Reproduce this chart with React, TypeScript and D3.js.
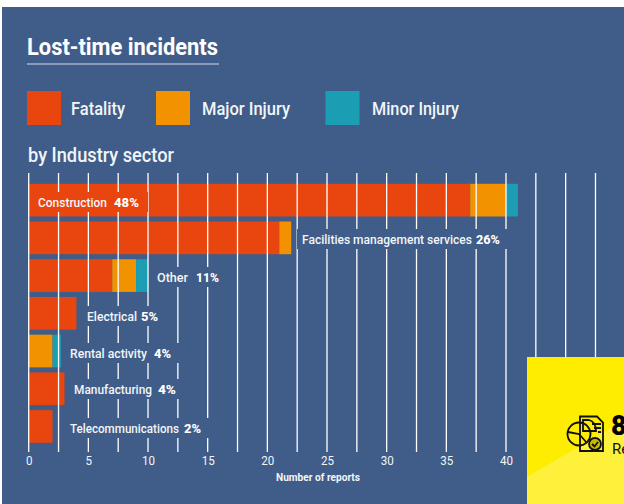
import React, { useEffect, useRef } from "react";
import * as d3 from "d3";

const sectors = [
  "Construction",
  "Facilities management services",
  "Other",
  "Electrical",
  "Rental activity",
  "Manufacturing",
  "Telecommunications",
];
const shares = ["48%", "26%", "11%", "5%", "4%", "4%", "2%"];
const fatality = [37, 21, 7, 4, 0, 3, 2];
const majorInjury = [3, 1, 2, 0, 2, 0, 0];
const minorInjury = [1, 0, 1, 0, 0.7, 0, 0];
const seriesNames = ["Fatality", "Major Injury", "Minor Injury"];
const axisTicks = [0, 5, 10, 15, 20, 25, 30, 35, 40];
const gridValues = d3.range(0, 48, 2.5);

const BG = "#3f5d88";
const INK = "#f2f5f8";
const colors = ["#e8450f", "#f39200", "#1b9db4"];

// hand placed, [name x, name width, share x, share width]
const labelPlacement = [
  [38, 69, 114, 25],
  [302, 170, 476, 24],
  [157, 31, 196, 23],
  [87, 50, 141, 17],
  [70, 77, 154, 17],
  [74, 78, 158, 18],
  [70, 109, 184, 17],
];
const labelCenters = [202, 239, 277, 316, 353, 389, 428];
const legendPlacement = [
  [27, 71, 54],
  [156, 202, 88],
  [325.5, 372, 87],
];

const App = () => {
  const svgRef = useRef<SVGSVGElement>(null);

  useEffect(() => {
    const svg = d3.select(svgRef.current);
    svg.selectAll("*").remove();

    const font = "Roboto, sans-serif";
    const addText = (
      x: number,
      y: number,
      str: string,
      size: number,
      width: number,
      weight = 500,
      fill = INK
    ) =>
      svg
        .append("text")
        .attr("x", x)
        .attr("y", y)
        .attr("font-family", font)
        .attr("font-size", size)
        .attr("font-weight", weight)
        .attr("fill", fill)
        .attr("textLength", width)
        .attr("lengthAdjust", "spacingAndGlyphs")
        .text(str);

    svg.append("rect").attr("x", 2).attr("y", 7).attr("width", 622).attr("height", 497).attr("fill", BG);

    // Heading
    addText(27, 54.5, "Lost-time incidents", 24, 191, 700, "#ffffff");
    svg.append("line").attr("x1", 27).attr("x2", 219).attr("y1", 64).attr("y2", 64)
      .attr("stroke", "#d5dce6").attr("stroke-width", 1.2);

    // Legend
    seriesNames.forEach((name, i) => {
      const [sx, tx, tw] = legendPlacement[i];
      svg.append("rect").attr("x", sx).attr("y", 91).attr("width", 34).attr("height", 34).attr("fill", colors[i]);
      addText(tx, 115, name, 18.5, tw);
    });

    addText(28, 162, "by Industry sector", 19.5, 146);

    // Scales
    const xScale = d3.scaleLinear().domain([0, 40]).range([28.7, 506]);
    const yScale = d3
      .scaleBand()
      .domain(sectors)
      .range([181.3, 445.3])
      .paddingInner(0.133)
      .paddingOuter(0.066);

    // Stacked bars
    const rows = sectors.map((s, i) => ({
      sector: s,
      Fatality: fatality[i],
      "Major Injury": majorInjury[i],
      "Minor Injury": minorInjury[i],
    }));
    const stacked = d3.stack().keys(seriesNames)(rows as any);
    stacked.forEach((layer, k) => {
      svg
        .append("g")
        .selectAll("rect")
        .data(layer)
        .enter()
        .append("rect")
        .attr("x", (d) => xScale(d[0]))
        .attr("width", (d) => xScale(d[1]) - xScale(d[0]))
        .attr("y", (d: any) => yScale(d.data.sector) as number)
        .attr("height", yScale.bandwidth())
        .attr("fill", colors[k]);
    });

    // Grid lines run over the bars
    svg
      .append("g")
      .selectAll("line")
      .data(gridValues)
      .enter()
      .append("line")
      .attr("x1", (d) => xScale(d))
      .attr("x2", (d) => xScale(d))
      .attr("y1", 173)
      .attr("y2", 452)
      .attr("stroke", "#ffffff")
      .attr("stroke-width", 1.3);

    // Labels sit on a patch that cuts the grid lines
    sectors.forEach((s, i) => {
      const [nx, nw, px, pw] = labelPlacement[i];
      const cy = labelCenters[i];
      svg
        .append("rect")
        .attr("x", nx - 5)
        .attr("y", cy - 10)
        .attr("width", px + pw + 9 - (nx - 5))
        .attr("height", 20)
        .attr("fill", i === 0 ? colors[0] : BG);
      addText(nx, cy + 4.5, s, 13, nw, 500);
      addText(px, cy + 4.5, shares[i], 13, pw, 800, "#ffffff");
    });

    // Axis labels
    const axis = svg
      .append("g")
      .attr("transform", "translate(0,452)")
      .call(d3.axisBottom(xScale).tickValues(axisTicks).tickSize(0).tickPadding(3).tickFormat(d3.format("d")));
    axis.select(".domain").remove();
    axis
      .selectAll("text")
      .attr("font-family", font)
      .attr("font-size", 13.5)
      .attr("fill", INK)
      .attr("textLength", (d: any) => (d < 10 ? 6.5 : 13))
      .attr("lengthAdjust", "spacingAndGlyphs");

    addText(276, 481, "Number of reports", 10, 84, 700);

    // Yellow callout
    svg.append("rect").attr("x", 527).attr("y", 357).attr("width", 97).attr("height", 147).attr("fill", "#ffed00");
    svg
      .append("path")
      .attr("d", "M527 477 L624 420 V504 H527 Z")
      .attr("fill", "#fff03c");

    const icon = svg.append("g").attr("fill", "none").attr("stroke", "#111111").attr("stroke-width", 1.8);
    icon.append("path").attr("d", "M580 416.5 H597 L603 422.5 V451 H580 Z");
    icon.append("path").attr("d", "M583 420 H589 Q596 422 596 431 H583 Z");
    icon.append("path").attr("d", "M592 424 H601 M594 428 H601 M598 432 H601");
    icon.append("circle").attr("cx", 579).attr("cy", 434).attr("r", 11.5);
    icon.append("path").attr("d", "M568 432 L579 434 L587 443");
    icon.append("circle").attr("cx", 595).attr("cy", 444).attr("r", 6).attr("fill", "#c9b800");
    icon.append("path").attr("d", "M592 444 L594.5 446.5 L598 442");

    svg.append("text").attr("x", 611).attr("y", 435).attr("font-family", font)
      .attr("font-size", 27).attr("font-weight", 900).attr("fill", "#000000").text("8");
    svg.append("text").attr("x", 612).attr("y", 454).attr("font-family", font)
      .attr("font-size", 15).attr("fill", "#111111").text("Re");
  }, []);

  return (
    <svg
      ref={svgRef}
      width={624}
      height={504}
      style={{ position: "fixed", left: 0, top: 0, background: "#ffffff" }}
    />
  );
};

export default App;
